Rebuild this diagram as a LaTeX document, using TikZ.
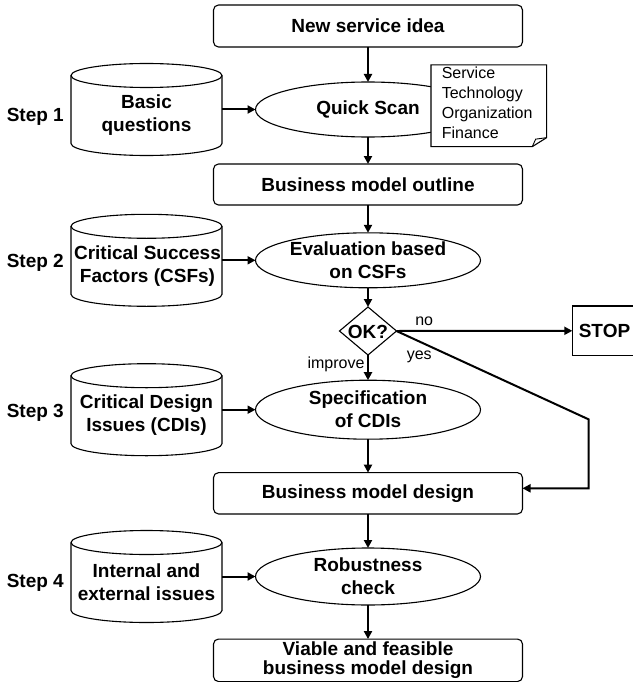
\documentclass[tikz,border=0pt]{standalone}
\usepackage{fontspec}
\setmainfont{Liberation Sans}
\usetikzlibrary{shapes.geometric,arrows.meta}

% Data store drawn as a cylinder around a named node
\newcommand\storecyl[1]{%
  \draw[storeline] ([yshift=-12pt]#1.north) ellipse[x radius=75.5pt, y radius=12pt];
  \draw[storeline] ([yshift=-12pt]#1.north west) -- ([yshift=12pt]#1.south west)
    arc[start angle=180, end angle=360, x radius=75.5pt, y radius=12pt]
    -- ([yshift=-12pt]#1.north east);}

\begin{document}
\begin{tikzpicture}[x=1pt,y=-1pt,
  every node/.style={inner sep=0pt, outer sep=0pt},
  bold/.style={font=\fontsize{19}{23}\selectfont\bfseries, align=center},
  plain/.style={font=\fontsize{16}{20}\selectfont},
  procbox/.style={draw, line width=1.1pt, rounded corners=5pt,
    minimum width=309pt, minimum height=42pt, bold},
  oval/.style={draw, line width=1.1pt, ellipse,
    minimum width=225pt, minimum height=56pt, bold},
  store/.style={minimum width=151pt, minimum height=92pt},
  storeline/.style={line width=1.1pt},
  flow/.style={line width=2pt, -{Triangle[length=8pt,width=8pt]}},
  ]
\useasboundingbox (0,0) rectangle (632,682);

% main process column
\node[procbox] (idea) at (368,26) {New service idea};
\node[oval, minimum height=55pt] (scan) at (368,109.5) {Quick Scan};
\node[procbox, minimum height=41pt] (outline) at (368,184.5) {Business model outline};
\node[oval, minimum height=55pt] (eval) at (368,260.3) {Evaluation based\\on CSFs};
\node[draw, diamond, line width=1.1pt, minimum width=57pt, minimum height=48pt] (ok) at (368,331) {};
\node[bold] (oktext) at (368,331.5) {OK?};
\node[draw, line width=1.1pt, minimum width=100pt, minimum height=49.7pt] (stop) at (622.3,330.8) {};
\node[bold] (stoptext) at (604.5,330.8) {STOP};
\node[oval, minimum height=59pt] (spec) at (368,409.7) {Specification\\of CDIs};
\node[procbox, minimum height=41.3pt] (design) at (368,493.3) {Business model design};
\node[oval, minimum height=57pt] (robust) at (368,576.5) {Robustness\\check};
\node[procbox, minimum height=42.5pt, font=\fontsize{19}{18.5}\selectfont\bfseries] (viable) at (368,660.3)
  {Viable and feasible\\business model design};

% annotation attached to the quick scan
\node[minimum width=115.7pt, minimum height=81.7pt] (note) at (488.8,105.8) {};
\draw[line width=1.1pt, fill=white] (note.north west) -- (note.north east)
  -- ([yshift=9pt]note.south east) -- ([xshift=-14.4pt]note.south east)
  -- (note.south west) -- cycle;
\draw[line width=0.9pt] ([xshift=-14.4pt]note.south east)
  -- ([xshift=-11pt,yshift=7.5pt]note.south east) -- ([yshift=9pt]note.south east);
\node[plain, align=left, anchor=west] (notetext) at (441.8,102.5)
  {Service\\Technology\\Organization\\Finance};

% data stores
\node[store] (q1) at (146.5,109.5) {};
\node[store] (q2) at (146.5,260.3) {};
\node[store] (q3) at (146.5,409.7) {};
\node[store] (q4) at (146.5,576.5) {};
\storecyl{q1}
\storecyl{q2}
\storecyl{q3}
\storecyl{q4}
\node[bold] (q1text) at (146.5,115.2) {Basic\\questions};
\node[bold] (q2text) at (147.5,265.8) {Critical Success\\Factors (CSFs)};
\node[bold] (q3text) at (146.5,415.3) {Critical Design\\Issues (CDIs)};
\node[bold] (q4text) at (146.5,582) {Internal and\\external issues};

% step labels
\node[bold] (s1) at (35.3,116.7) {Step 1};
\node[bold] (s2) at (35.3,263.3) {Step 2};
\node[bold] (s3) at (35.3,413.3) {Step 3};
\node[bold] (s4) at (35.3,583.3) {Step 4};

% connectors
\draw[flow] (idea) -- (scan);
\draw[flow] (scan) -- (outline);
\draw[flow] (outline) -- (eval);
\draw[flow] (eval) -- (ok);
\draw[flow] (ok) -- (spec);
\draw[flow] (spec) -- (design);
\draw[flow] (design) -- (robust);
\draw[flow] (robust) -- (viable);
\draw[flow] (q1) -- (scan);
\draw[flow] (q2) -- (eval);
\draw[flow] (q3) -- (spec);
\draw[flow] (q4) -- (robust);
\draw[flow] (ok.east) -- (stop.west);
\coordinate (yesbend) at (588.5,419.3);
\draw[flow] (ok.east) -- (yesbend) |- ([yshift=5pt]design.east);

% branch labels
\node[plain] (nolabel) at (424.2,321.7) {no};
\node[plain] (yeslabel) at (419.2,356.7) {yes};
\node[plain, anchor=east] (improvelabel) at (364.5,364) {improve};
\end{tikzpicture}
\end{document}
